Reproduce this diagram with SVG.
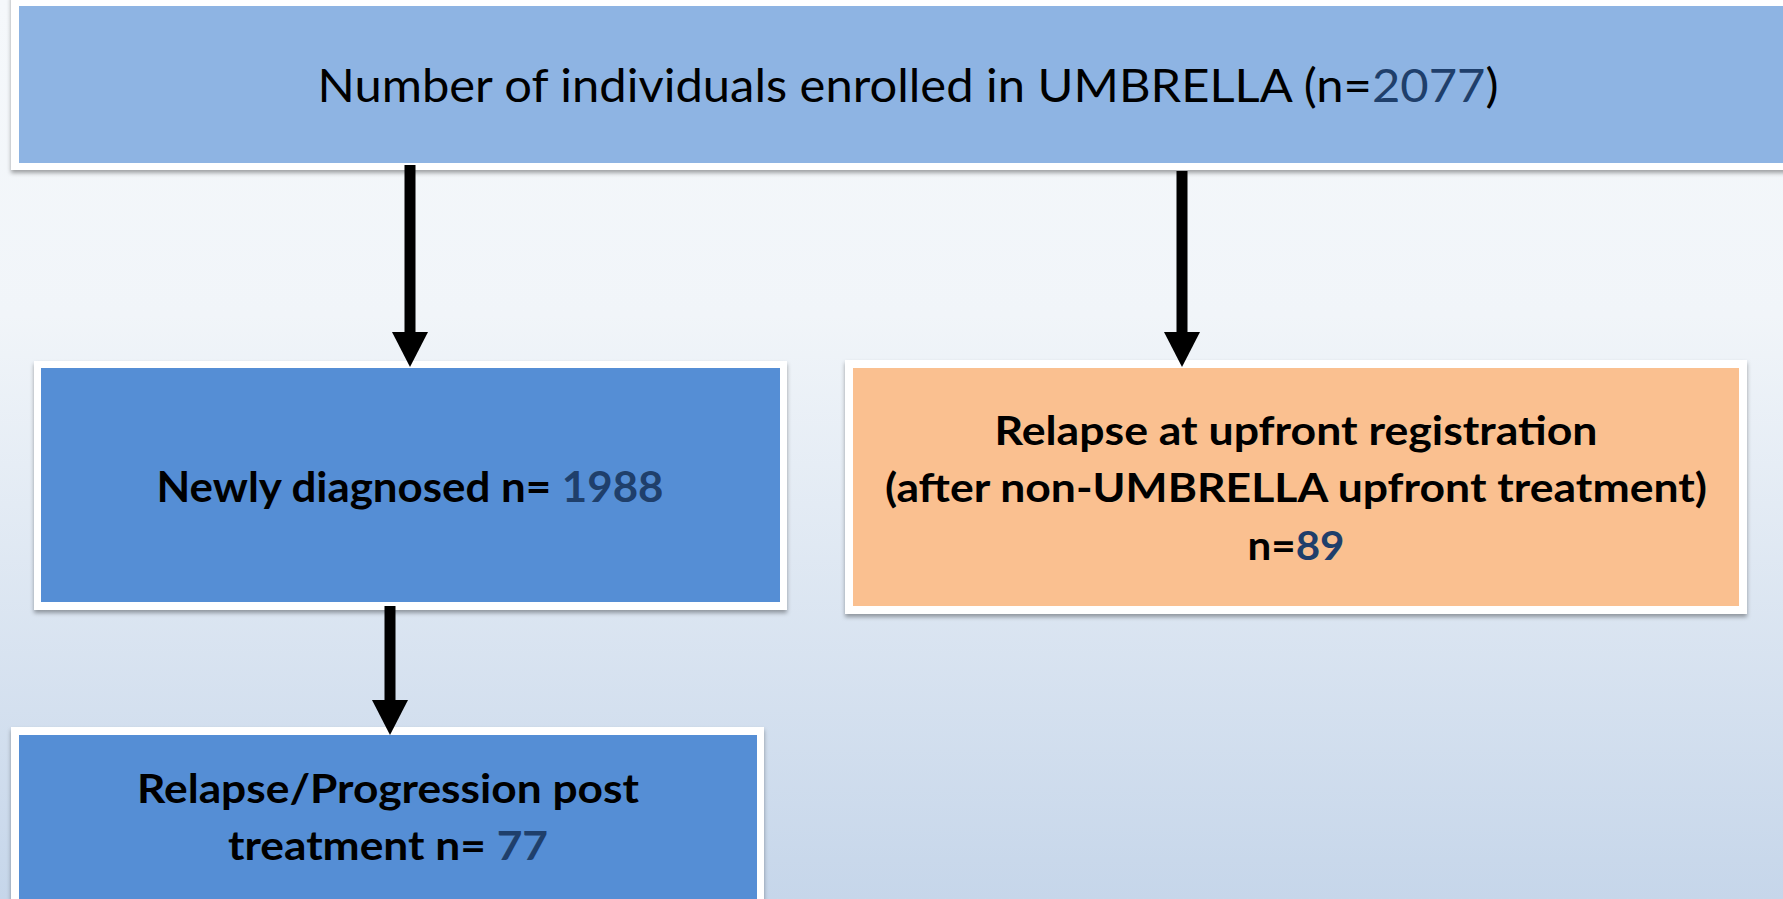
<svg xmlns="http://www.w3.org/2000/svg" width="1783" height="899" viewBox="0 0 1783 899">
<defs>
<linearGradient id="bg" x1="0" y1="0" x2="0" y2="1">
<stop offset="0" stop-color="#F5F8FB"/>
<stop offset="0.35" stop-color="#F1F5F9"/>
<stop offset="1" stop-color="#C6D6EA"/>
</linearGradient>
<filter id="sh" x="-5%" y="-5%" width="110%" height="115%">
<feDropShadow dx="0" dy="3" stdDeviation="2" flood-color="#000" flood-opacity="0.35"/>
</filter>
<marker id="ah" viewBox="0 0 35 36" refX="1" refY="18" markerWidth="35" markerHeight="36" markerUnits="userSpaceOnUse" orient="auto">
<path d="M0,0 L35,18 L0,36 z" fill="#000"/>
</marker>
</defs>
<style>
.frame{fill:#FFFFFF;filter:url(#sh);}
.t{font-family:Lato,"Liberation Sans",sans-serif;text-anchor:middle;fill:#000;}
.b{font-weight:bold;}
.num{fill:#1F3F6B;}
.conn{stroke:#000;stroke-width:11;fill:none;marker-end:url(#ah);}
</style>
<rect x="0" y="0" width="1783" height="899" fill="url(#bg)"/>

<g id="node-enrolled">
<rect class="frame" x="11" y="-6" width="1790" height="176"/>
<rect x="19" y="6" width="1780" height="157" fill="#8EB4E3"/>
<text class="t" x="908" y="102" font-size="47" textLength="1181" lengthAdjust="spacingAndGlyphs">Number of individuals enrolled in UMBRELLA (n=<tspan class="num">2077</tspan>)</text>
</g>

<g id="node-newly">
<rect class="frame" x="34" y="361" width="753" height="249"/>
<rect x="41" y="368" width="739" height="234" fill="#558ED5"/>
<text class="t b" x="410" y="502" font-size="42" textLength="507" lengthAdjust="spacingAndGlyphs">Newly diagnosed n= <tspan class="num">1988</tspan></text>
</g>

<g id="node-relapse-upfront">
<rect class="frame" x="845" y="360" width="902" height="254"/>
<rect x="853" y="368" width="886" height="238" fill="#FAC090"/>
<text class="t b" x="1296" y="445" font-size="40" textLength="603" lengthAdjust="spacingAndGlyphs">Relapse at upfront registration</text>
<text class="t b" x="1296" y="502" font-size="40" textLength="822" lengthAdjust="spacingAndGlyphs">(after non-UMBRELLA upfront treatment)</text>
<text class="t b" x="1296" y="560" font-size="40" textLength="97" lengthAdjust="spacingAndGlyphs">n=<tspan class="num">89</tspan></text>
</g>

<g id="node-relapse-post">
<rect class="frame" x="11" y="727" width="753" height="190"/>
<rect x="19" y="735" width="738" height="180" fill="#558ED5"/>
<text class="t b" x="388" y="803" font-size="41" textLength="502" lengthAdjust="spacingAndGlyphs">Relapse/Progression post</text>
<text class="t b" x="388" y="860" font-size="41" textLength="320" lengthAdjust="spacingAndGlyphs">treatment n= <tspan class="num">77</tspan></text>
</g>

<g id="connectors">
<line class="conn" x1="410" y1="165" x2="410" y2="333"/>
<line class="conn" x1="1182" y1="171" x2="1182" y2="333"/>
<line class="conn" x1="390" y1="606" x2="390" y2="701"/>
</g>
</svg>
